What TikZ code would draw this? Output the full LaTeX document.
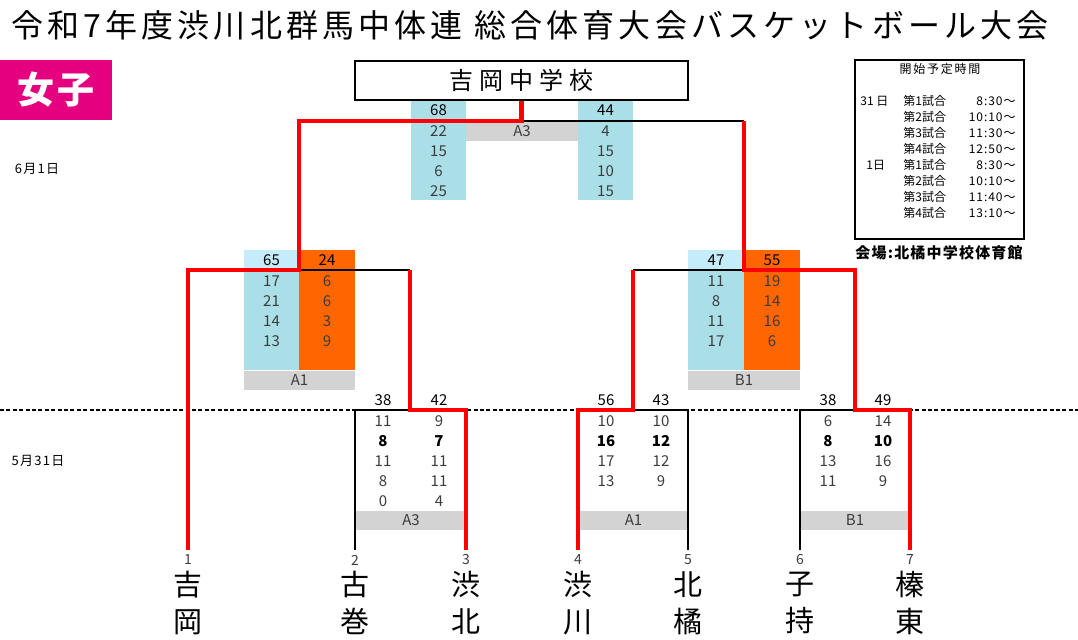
\documentclass[tikz,border=0pt]{standalone}
\usepackage{fontspec}
\setmainfont{Noto Sans CJK JP}
\usepackage{xcolor}
\usetikzlibrary{positioning,calc}
\newcommand{\best}{\color{black}\bfseries}
\definecolor{mymagenta}{RGB}{228,0,127}
\definecolor{myblue}{RGB}{170,223,232}
\definecolor{mylightblue}{RGB}{197,236,251}
\definecolor{myorange}{RGB}{255,102,0}
\definecolor{mygray}{RGB}{211,211,211}
\definecolor{myred}{RGB}{255,0,0}
\definecolor{mytext}{RGB}{60,60,60}

\begin{document}
\begin{tikzpicture}[
          x=0.5pt,y=-0.5pt,
          every node/.style={inner sep=0pt},
          score/.style={text=mytext,font=\fontsize{7.5}{8}\selectfont},
          head/.style={font=\fontsize{7.5}{8}\selectfont},
          court/.style={text=mytext,font=\fontsize{7.5}{8}\selectfont},
          seed/.style={text=mytext,font=\fontsize{7}{7}\selectfont},
          team/.style={align=center,font=\fontsize{14.5}{18.5}\selectfont},
          small/.style={text height=5pt,text depth=1pt,font=\fontsize{6}{6}\selectfont},
          line/.style={line width=0.75pt},
          win/.style={myred,line width=2.25pt}
          ]
          \useasboundingbox (0,0) rectangle (1078,640);

          % the title
          \node[font={\fontsize{16}{16}\selectfont\addfontfeature{LetterSpace=13}}] (title) at (530,25)
            {令和7年度渋川北群馬中体連 総合体育大会バスケットボール大会};
          \fill[mymagenta] (0,60) rectangle (112,120);
          \node[text=white,font={\fontsize{18.5}{18.5}\selectfont\bfseries\addfontfeature{LetterSpace=10}}] (girls) at (56,90) {女子};

          % the score boxes
          \fill[myblue] (411,100) rectangle (466,200);
          \fill[myblue] (578,100) rectangle (633,200);
          \fill[mygray] (466,122) rectangle (578,141);
          \fill[mylightblue] (244,250) rectangle (299,270);
          \fill[myblue] (244,270) rectangle (299,370);
          \fill[myorange] (299,250) rectangle (355,370);
          \fill[mygray] (244,371) rectangle (355,390);
          \fill[mylightblue] (688,250) rectangle (744,270);
          \fill[myblue] (688,270) rectangle (744,370);
          \fill[myorange] (744,250) rectangle (800,370);
          \fill[mygray] (688,371) rectangle (800,390);
          \foreach \xa/\xb in {356/466,579/688,800/910}
            \fill[mygray] (\xa,511) rectangle (\xb,530);

          % the line between the two days
          \draw[line width=0.6pt,dash pattern=on 2pt off 1.2pt] (0,410) -- (1078,410);

          % the teams
          \foreach \i/\x/\name in {1/188/{吉\\岡},2/355/{古\\巻},3/466/{渋\\北},4/578/{渋\\川},5/688/{北\\橘},6/800/{子\\持},7/910/{榛\\東}}
          {
            \coordinate (f\i) at (\x,550);
            \node[seed] (n\i) at (\x,560) {\i};
            \node[team] (t\i) at (\x,603) {\name};
          }

          % the champion
          \node[draw,line width=0.75pt,minimum width=166.5pt,minimum height=19.5pt,
                font={\fontsize{12}{12}\selectfont\addfontfeature{LetterSpace=25}}] (champ) at (521.5,80.5) {吉岡中学校};

          \coordinate (m1) at (410,410);
          \coordinate (m2) at (633,410);
          \coordinate (m3) at (855,410);
          \coordinate (s1) at (299,270);
          \coordinate (s2) at (744,270);
          \coordinate (fin) at (521.5,121);

          % the bracket
          \draw[line] (f2) |- (m1);
          \draw[line] (f5) |- (m2);
          \draw[line] (f6) |- (m3);
          \draw[line] (s1) -- (m1 |- s1);
          \draw[line] (m2 |- s2) -- (s2);
          \draw[line] (fin) -- (s2 |- fin);
          % the winners
          \draw[win] (f1) |- (s1) |- (fin) -- (champ.south);
          \draw[win] (f3) |- (m1) -- (m1 |- s1);
          \draw[win] (f4) |- (m2) -- (m2 |- s2);
          \draw[win] (f7) |- (m3) |- (s2) -- (s2 |- fin);

          % the scores
          \foreach \x/\y/\h/\vals [count=\c] in {438.5/110/68/{22,15,6,25},605.5/110/44/{4,15,10,15},
              271.5/260.5/65/{17,21,14,13},327/260.5/24/{6,6,3,9},716/260.5/47/{11,8,11,17},772/260.5/55/{19,14,16,6},
              383/400/38/{11,\best 8,11,8,0},439/400/42/{9,\best 7,11,11,4},606/400/56/{10,\best 16,17,13},
              661/400/43/{10,\best 12,12,9},828/400/38/{6,\best 8,13,11},883/400/49/{14,\best 10,16,9}}
          {
            \node[head] (head\c) at (\x,\y) {\h};
            \foreach \v [count=\k] in \vals
              \node[score] (cell\c-\k) at (\x,\y+1+20*\k) {\v};
          }

          % the courts
          \foreach \c/\x/\y/\name in {1/522/131/A3,2/299.5/380.5/A1,3/744/380.5/B1,4/411/520.5/A3,5/633.5/520.5/A1,6/855/520.5/B1}
            \node[court] (court\c) at (\x,\y) {\name};

          % the days
          \node[small,font={\fontsize{6.5}{7}\selectfont\addfontfeature{LetterSpace=10}}] (day1) at (37,170) {6月1日};
          \node[small,font={\fontsize{6.5}{7}\selectfont\addfontfeature{LetterSpace=10}}] (day2) at (38,462) {5月31日};

          % the schedule
          \node[draw,line width=0.75pt,minimum width=84.5pt,minimum height=89.5pt] (info) at (939.5,149.5) {};
          \node[small,font={\fontsize{6}{6}\selectfont\addfontfeature{LetterSpace=15}}] (times) at (940,70) {開始予定時間};
          \foreach \dx/\d/\g/\t [count=\r] in {860/31 日/第1試合/8:30～,866/{}/第2試合/10:10～,866/{}/第3試合/11:30～,
              866/{}/第4試合/12:50～,866/1日/第1試合/8:30～,866/{}/第2試合/10:10～,866/{}/第3試合/11:40～,866/{}/第4試合/13:10～}
          {
            \node[small,anchor=west] (date\r) at (\dx,86+16*\r) {\d};
            \node[small,anchor=west] (game\r) at (903,86+16*\r) {\g};
            \node[small,anchor=east,font={\fontsize{6}{6}\selectfont\addfontfeature{LetterSpace=8}}] (time\r) at (1016,86+16*\r) {\t};
          }
          \node[anchor=west,font={\fontsize{7.5}{8}\selectfont\bfseries\addfontfeature{LetterSpace=8}}] (venue) at (855,253) {会場:北橘中学校体育館};
        \end{tikzpicture}
\end{document}
